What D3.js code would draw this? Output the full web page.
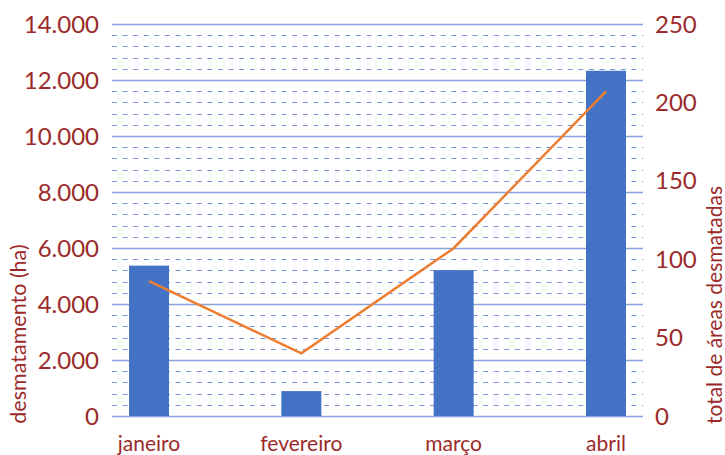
<!DOCTYPE html>
<html>
<head>
<meta charset="utf-8">
<script src="https://d3js.org/d3.v7.min.js"></script>
<style>
  body { margin: 0; background: #fff; }
  svg text { font-family: Lato, "Open Sans", sans-serif; fill: #9b2a2a; }
</style>
</head>
<body>
<script>
// data
let months = ["janeiro", "fevereiro", "março", "abril"];
let hectares = [5370, 890, 5210, 12330];
let areas = [86, 40, 107, 207];
let leftTicks = [0, 2000, 4000, 6000, 8000, 10000, 12000, 14000];
let leftLabels = ["0", "2.000", "4.000", "6.000", "8.000", "10.000", "12.000", "14.000"];
let rightTicks = [0, 50, 100, 150, 200, 250];
let minorStep = 400;

let svgwidth = 725, svgheight = 455;
let plot = { left: 112, right: 643, top: 24, bottom: 416 };

let svg = d3.select("body").append("svg")
    .attr("width", svgwidth)
    .attr("height", svgheight);

let x = d3.scalePoint().domain(months).range([plot.left, plot.right]).padding(0.243);
let y0 = d3.scaleLinear().domain([0, 14000]).range([plot.bottom, plot.top]);
let y1 = d3.scaleLinear().domain([0, 250]).range([plot.bottom, plot.top]);

// minor dashed gridlines
let minor = d3.range(0, 14000, minorStep).filter(function (v) { return v % 2000 !== 0; });
svg.append("g").selectAll("line").data(minor).enter().append("line")
    .attr("x1", plot.left).attr("x2", plot.right)
    .attr("y1", function (d) { return Math.round(y0(d)) + 0.5; })
    .attr("y2", function (d) { return Math.round(y0(d)) + 0.5; })
    .attr("stroke", "#7596d8")
    .attr("stroke-width", 1)
    .attr("stroke-dasharray", "5,5.6");

// major solid gridlines
svg.append("g").selectAll("line").data(leftTicks).enter().append("line")
    .attr("x1", plot.left).attr("x2", plot.right)
    .attr("y1", function (d) { return Math.round(y0(d)) + 0.5; })
    .attr("y2", function (d) { return Math.round(y0(d)) + 0.5; })
    .attr("stroke", "#86a3dc")
    .attr("stroke-width", 1.5);

// bars
let barW = 40;
svg.append("g").selectAll("rect").data(hectares).enter().append("rect")
    .attr("x", function (d, i) { return x(months[i]) - barW / 2; })
    .attr("y", function (d) { return y0(d); })
    .attr("width", barW)
    .attr("height", function (d) { return y0(0) - y0(d); })
    .attr("fill", "#4472c4");

// line
let line = d3.line()
    .x(function (d, i) { return x(months[i]); })
    .y(function (d) { return y1(d); });
svg.append("path")
    .datum(areas)
    .attr("d", line)
    .attr("fill", "none")
    .attr("stroke", "#ed7d31")
    .attr("stroke-width", 2.5);

// left axis labels
svg.append("g").selectAll("text").data(leftTicks).enter().append("text")
    .attr("x", 99)
    .attr("y", function (d) { return y0(d); })
    .attr("dy", "0.36em")
    .attr("text-anchor", "end")
    .attr("font-size", 24)
    .text(function (d, i) { return leftLabels[i]; });

// right axis labels
svg.append("g").selectAll("text").data(rightTicks).enter().append("text")
    .attr("x", 655)
    .attr("y", function (d) { return y1(d); })
    .attr("dy", "0.36em")
    .attr("text-anchor", "start")
    .attr("font-size", 24)
    .text(function (d) { return d; });

// month labels
svg.append("g").selectAll("text").data(months).enter().append("text")
    .attr("x", function (d) { return x(d); })
    .attr("y", 451)
    .attr("text-anchor", "middle")
    .attr("font-size", 21)
    .text(function (d) { return d; });

// axis titles
svg.append("text")
    .attr("transform", "translate(26,334) rotate(-90)")
    .attr("text-anchor", "middle")
    .attr("font-size", 21.5)
    .text("desmatamento (ha)");

svg.append("text")
    .attr("transform", "translate(722,305) rotate(-90)")
    .attr("text-anchor", "middle")
    .attr("font-size", 21)
    .text("total de áreas desmatadas");
</script>
</body>
</html>
